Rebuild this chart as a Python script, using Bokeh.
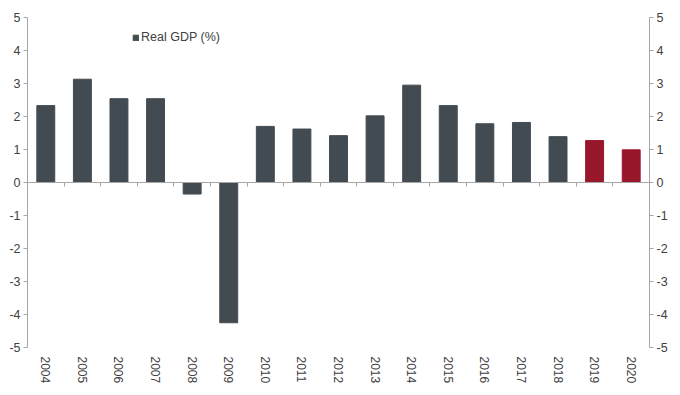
import math
from bokeh.plotting import figure
from bokeh.models import (LinearAxis, FixedTicker, Range1d, ColumnDataSource,
                          Legend, LegendItem)
from bokeh.embed import file_html
from bokeh.resources import INLINE

# ---- data ----
years = ["2004", "2005", "2006", "2007", "2008", "2009", "2010", "2011", "2012",
         "2013", "2014", "2015", "2016", "2017", "2018", "2019", "2020"]
real_gdp = [2.33, 3.13, 2.54, 2.54, -0.35, -4.25, 1.70, 1.62, 1.42,
            2.02, 2.95, 2.33, 1.78, 1.82, 1.39, 1.27, 0.99]
is_forecast = [False] * 15 + [True, True]
y_ticks = [-5, -4, -3, -2, -1, 0, 1, 2, 3, 4, 5]
y_tick_labels = ["-5", "-4", "-3", "-2", "-1", "0", "1", "2", "3", "4", "5"]
series_label = "Real GDP (%)"

# ---- styles ----
DARK = "#434b52"
RED = "#98172b"
GRAY = "#a6a6a6"
TXT = "#404040"
FONT = "Liberation Sans"

pos = list(range(len(years)))
colors = [RED if f else DARK for f in is_forecast]
src = ColumnDataSource(dict(x=pos, y=real_gdp, color=colors))

p = figure(width=672, height=390, output_backend="svg", toolbar_location=None,
           x_range=Range1d(-0.5, len(years) - 0.5),
           y_range=Range1d(min(y_ticks), max(y_ticks)),
           x_axis_location=None, y_axis_location=None,
           min_border_left=27, min_border_right=23, min_border_top=17,
           min_border_bottom=43)
p.outline_line_color = None
p.xgrid.visible = False
p.ygrid.visible = False
p.background_fill_color = "white"
p.border_fill_color = "white"

r = p.vbar(x="x", top="y", bottom=0, width=0.49, source=src,
           fill_color="color", line_color="color", line_width=1)


def y_axis():
    return LinearAxis(ticker=FixedTicker(ticks=y_ticks),
                      major_label_overrides=dict(zip(y_ticks, y_tick_labels)),
                      axis_line_color=GRAY, major_tick_line_color=GRAY,
                      major_tick_in=0, major_tick_out=4,
                      minor_tick_line_color=None,
                      major_label_text_font=FONT,
                      major_label_text_font_size="12.5px",
                      major_label_text_color=TXT,
                      major_label_standoff=3)


p.add_layout(y_axis(), "left")
p.add_layout(y_axis(), "right")

zero_axis = LinearAxis(fixed_location=0,
                       ticker=FixedTicker(ticks=[i + 0.5 for i in pos[:-1]]),
                       axis_line_color=GRAY, major_tick_line_color=GRAY,
                       major_tick_in=0, major_tick_out=4,
                       minor_tick_line_color=None,
                       major_label_text_font_size="1px",
                       major_label_text_color=None,
                       major_label_standoff=0)
p.add_layout(zero_axis, "below")

year_axis = LinearAxis(ticker=FixedTicker(ticks=pos),
                       major_label_overrides={i: y for i, y in zip(pos, years)},
                       major_label_orientation="vertical",
                       axis_line_color=None, major_tick_line_color=None,
                       minor_tick_line_color=None,
                       major_label_text_font=FONT,
                       major_label_text_font_size="12px",
                       major_label_text_color=TXT,
                       major_label_standoff=3)
p.add_layout(year_axis, "below")

legend = Legend(items=[LegendItem(label=series_label, renderers=[r], index=0)],
                location=(105, 303), border_line_color=None,
                background_fill_alpha=0, padding=0, margin=0,
                glyph_width=7, glyph_height=7, label_standoff=2,
                label_height=14, label_text_font=FONT,
                label_text_font_size="12.5px", label_text_color=TXT)
p.add_layout(legend)

open("out.html", "w").write(file_html(p, INLINE))
